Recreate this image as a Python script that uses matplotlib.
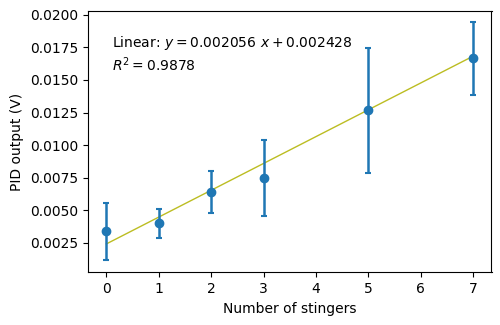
import numpy as np
import matplotlib
matplotlib.use("Agg")
import matplotlib.pyplot as plt

stingers = [0, 1, 2, 3, 5, 7]
pid_output = [0.00340, 0.00400, 0.00640, 0.00748, 0.01267, 0.01665]
pid_err = [0.00218, 0.00112, 0.00162, 0.00292, 0.00480, 0.00280]

slope = 0.002056
intercept = 0.002428
r_squared = 0.9878

fig, ax = plt.subplots(figsize=(5, 3.25), dpi=100)
ax.errorbar(stingers, pid_output, yerr=pid_err, fmt="o", color="tab:blue",
            elinewidth=1.8, capsize=2.5, capthick=1.5, zorder=3)

x_fit = np.array([min(stingers), max(stingers)])
ax.plot(x_fit, slope * x_fit + intercept, color="tab:olive", linewidth=1, zorder=2)

ax.text(0.059, 0.91,
        f"Linear: $y = {slope:.6f}\\ x + {intercept:.6f}$\n$R^2 = {r_squared:.4f}$",
        transform=ax.transAxes, va="top", ha="left", fontsize=10)

ax.set_xlabel("Number of stingers")
ax.set_ylabel("PID output (V)")
ax.set_xticks(range(0, 8))
ax.set_ylim(0.00025, 0.0203)
fig.subplots_adjust(left=0.176, right=0.983, top=0.967, bottom=0.162)
fig.savefig("out.png")
